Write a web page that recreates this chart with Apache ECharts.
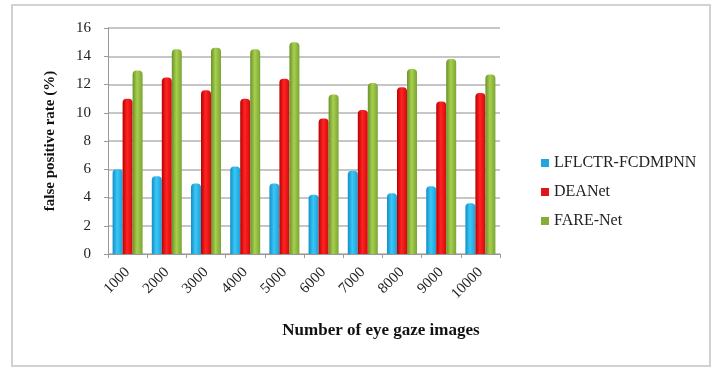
<!DOCTYPE html>
<html>
<head>
<meta charset="utf-8">
<script src="https://cdn.jsdelivr.net/npm/echarts@6/dist/echarts.min.js"></script>
<style>
  html, body { margin: 0; padding: 0; background: #fff; }
  #chart { width: 713px; height: 369px; }
</style>
</head>
<body>
<div id="chart"></div>
<script>
// categories (x axis)
const imageCounts = ["1000", "2000", "3000", "4000", "5000", "6000", "7000", "8000", "9000", "10000"];
// false positive rate (%) per method
const lflctrFcdmpnn = [6.0, 5.5, 5.0, 6.2, 5.0, 4.2, 5.9, 4.3, 4.8, 3.6];
const deaNet = [11.0, 12.5, 11.6, 11.0, 12.4, 9.6, 10.2, 11.8, 10.8, 11.4];
const fareNet = [13.0, 14.5, 14.6, 14.5, 15.0, 11.3, 12.1, 13.1, 13.8, 12.7];
const seriesNames = ["LFLCTR-FCDMPNN", "DEANet", "FARE-Net"];

// cylinder-like shading across the bar
function shade(dark, light, mid) {
    return new echarts.graphic.LinearGradient(0, 0, 1, 0, [
        { offset: 0, color: dark },
        { offset: 0.45, color: light },
        { offset: 1, color: mid }
    ]);
}

function barSeries(name, data, color) {
    return {
        name: name,
        type: "bar",
        data: data,
        barWidth: 10,
        barGap: "0%",
        itemStyle: { color: color, borderRadius: [4, 4, 0, 0] }
    };
}

const chart = echarts.init(document.getElementById("chart"));
chart.setOption({
    animation: false,
    textStyle: { fontFamily: "Liberation Serif" },
    graphic: [
        {
            type: "rect",
            shape: { x: 12, y: 5, width: 698, height: 361 },
            style: { fill: "none", stroke: "#d2d2d2", lineWidth: 2 }
        }
    ],
    legend: {
        data: seriesNames.map(function (n, i) {
            return { name: n, itemStyle: { color: ["#1fa6dc", "#e0161c", "#86ad36"][i] } };
        }),
        orient: "vertical",
        left: 536,
        top: 150,
        itemWidth: 8,
        itemHeight: 8,
        itemGap: 13,
        icon: "rect",
        textStyle: { fontFamily: "Liberation Serif", fontSize: 16, color: "#222" }
    },
    grid: { left: 108, right: 213, top: 28, bottom: 115 },
    xAxis: {
        type: "category",
        data: imageCounts,
        name: "Number of eye gaze images",
        nameLocation: "middle",
        nameGap: 68,
        nameTextStyle: {
            fontFamily: "Liberation Serif",
            fontSize: 17,
            fontWeight: "bold",
            color: "#111",
            padding: [0, 0, 0, 154]
        },
        axisLine: { lineStyle: { color: "#999", width: 1 } },
        axisTick: { show: true, length: 4, lineStyle: { color: "#999" } },
        axisLabel: {
            rotate: 45,
            margin: 16,
            fontSize: 15,
            color: "#222",
            fontFamily: "Liberation Serif"
        }
    },
    yAxis: {
        type: "value",
        min: 0,
        max: 16,
        interval: 2,
        name: "false positive rate (%)",
        nameLocation: "middle",
        nameRotate: 90,
        nameGap: 50,
        nameTextStyle: {
            fontFamily: "Liberation Serif",
            fontSize: 15,
            fontWeight: "bold",
            color: "#111"
        },
        axisLine: { show: true, lineStyle: { color: "#999" } },
        axisTick: { show: true, length: 4, lineStyle: { color: "#999" } },
        axisLabel: { fontSize: 15, margin: 17, color: "#222", fontFamily: "Liberation Serif" },
        splitLine: { show: true, lineStyle: { color: "#c6c6c6", width: 2 } }
    },
    series: [
        barSeries(seriesNames[0], lflctrFcdmpnn, shade("#0f8fc6", "#3cc6f4", "#1aa2da")),
        barSeries(seriesNames[1], deaNet, shade("#b80000", "#ff2424", "#d40a0a")),
        barSeries(seriesNames[2], fareNet, shade("#68922a", "#a8cf4e", "#7aa534"))
    ]
});
</script>
</body>
</html>
